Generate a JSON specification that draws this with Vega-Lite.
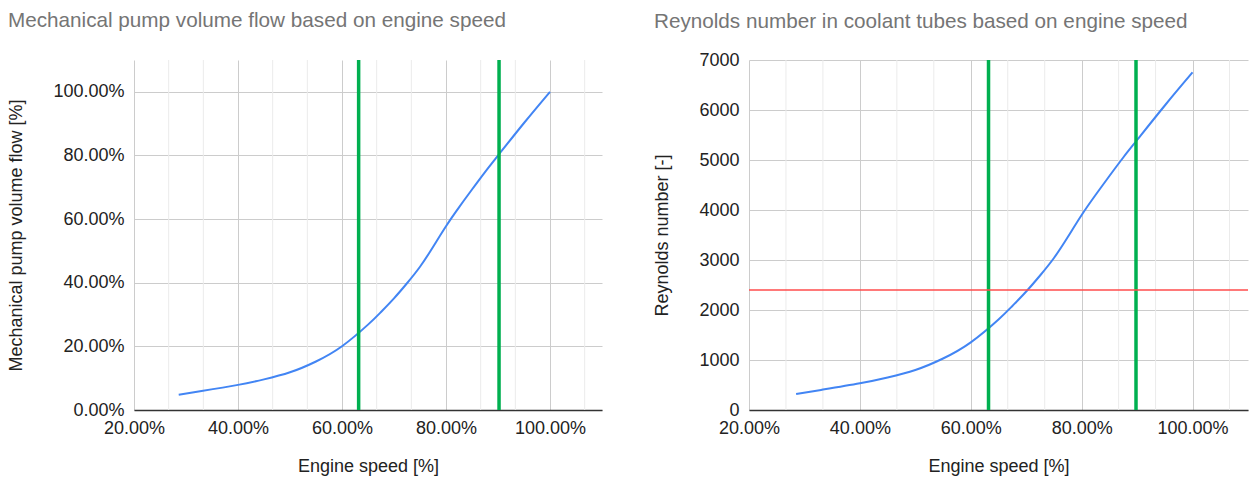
{
  "$schema": "https://vega.github.io/schema/vega-lite/v6.json",
  "padding": {"left": 7, "top": 9, "right": 5, "bottom": 2},
  "config": {
    "font": "Liberation Sans",
    "view": {"stroke": null},
    "title": {"fontSize": 20.7, "fontWeight": "normal", "color": "#757575", "anchor": "start", "frame": "bounds", "font": "Liberation Sans"},
    "axis": {
      "labelFont": "Liberation Sans", "titleFont": "Liberation Sans",
      "labelFontSize": 18, "titleFontSize": 18, "titleFontWeight": "normal",
      "labelColor": "#222222", "titleColor": "#222222",
      "ticks": false, "domain": false, "gridColor": "#cccccc", "gridWidth": 1,
      "labelFlush": false, "labelOverlap": false
    },
    "concat": {"spacing": 51}
  },
  "datasets": {
    "flow": [
      {"speed": 0.286, "flow": 0.048},
      {"speed": 0.33, "flow": 0.0595},
      {"speed": 0.40, "flow": 0.079},
      {"speed": 0.45, "flow": 0.0963},
      {"speed": 0.50, "flow": 0.1185},
      {"speed": 0.55, "flow": 0.1525},
      {"speed": 0.60, "flow": 0.2004},
      {"speed": 0.65, "flow": 0.2683},
      {"speed": 0.675, "flow": 0.3081},
      {"speed": 0.70, "flow": 0.3510},
      {"speed": 0.725, "flow": 0.3984},
      {"speed": 0.75, "flow": 0.4502},
      {"speed": 0.775, "flow": 0.5124},
      {"speed": 0.80, "flow": 0.5776},
      {"speed": 0.825, "flow": 0.6369},
      {"speed": 0.85, "flow": 0.6931},
      {"speed": 0.875, "flow": 0.7479},
      {"speed": 0.90, "flow": 0.7998},
      {"speed": 0.95, "flow": 0.9020},
      {"speed": 1.00, "flow": 1.000}
    ],
    "re": [
      {"speed": 0.285, "re": 320},
      {"speed": 0.33, "re": 402},
      {"speed": 0.40, "re": 533},
      {"speed": 0.45, "re": 650},
      {"speed": 0.50, "re": 800},
      {"speed": 0.55, "re": 1030},
      {"speed": 0.60, "re": 1353},
      {"speed": 0.65, "re": 1810},
      {"speed": 0.675, "re": 2080},
      {"speed": 0.70, "re": 2370},
      {"speed": 0.725, "re": 2690},
      {"speed": 0.75, "re": 3040},
      {"speed": 0.775, "re": 3460},
      {"speed": 0.80, "re": 3900},
      {"speed": 0.825, "re": 4300},
      {"speed": 0.85, "re": 4680},
      {"speed": 0.875, "re": 5050},
      {"speed": 0.90, "re": 5400},
      {"speed": 0.95, "re": 6090},
      {"speed": 1.00, "re": 6752}
    ],
    "minor": [
      {"speed": 0.2666667}, {"speed": 0.3333333}, {"speed": 0.4666667}, {"speed": 0.5333333},
      {"speed": 0.6666667}, {"speed": 0.7333333}, {"speed": 0.8666667}, {"speed": 0.9333333},
      {"speed": 1.0666667}
    ],
    "green": [{"speed": 0.632}, {"speed": 0.902}],
    "green2": [{"speed": 0.632}, {"speed": 0.898}],
    "red": [{"re": 2400}]
  },
  "hconcat": [
    {
      "title": {"text": "Mechanical pump volume flow based on engine speed", "offset": 27},
      "width": 468,
      "height": 350,
      "layer": [
        {
          "data": {"name": "minor"},
          "mark": {"type": "rule", "color": "#ebebeb", "strokeWidth": 1},
          "encoding": {"x": {"field": "speed", "type": "quantitative"}}
        },
        {
          "data": {"name": "flow"},
          "mark": {"type": "line", "color": "#4285f4", "strokeWidth": 2, "interpolate": "natural"},
          "encoding": {
            "x": {
              "field": "speed", "type": "quantitative", "title": "Engine speed [%]",
              "scale": {"domain": [0.2, 1.1], "nice": false, "zero": false},
              "axis": {
                "format": ".2%",
                "values": [0.2, 0.4, 0.6, 0.8, 1.0],
                "labelOverlap": false,
                "domain": true, "domainColor": "#333333", "domainWidth": 1.5,
                "labelPadding": 9, "titlePadding": 20
              }
            },
            "y": {
              "field": "flow", "type": "quantitative", "title": "Mechanical pump volume flow [%]",
              "scale": {"domain": [0, 1.1], "nice": false},
              "axis": {"format": ".2%", "values": [0, 0.2, 0.4, 0.6, 0.8, 1.0], "labelPadding": 10, "titlePadding": 27}
            }
          }
        },
        {
          "data": {"name": "green"},
          "mark": {"type": "rule", "color": "#00b050", "strokeWidth": 3.5},
          "encoding": {"x": {"field": "speed", "type": "quantitative"}}
        }
      ]
    },
    {
      "title": {"text": "Reynolds number in coolant tubes based on engine speed", "offset": 18},
      "width": 499,
      "height": 350,
      "layer": [
        {
          "data": {"name": "minor"},
          "mark": {"type": "rule", "color": "#ebebeb", "strokeWidth": 1},
          "encoding": {"x": {"field": "speed", "type": "quantitative"}}
        },
        {
          "data": {"name": "re"},
          "mark": {"type": "line", "color": "#4285f4", "strokeWidth": 2, "interpolate": "natural"},
          "encoding": {
            "x": {
              "field": "speed", "type": "quantitative", "title": "Engine speed [%]",
              "scale": {"domain": [0.2, 1.1], "nice": false, "zero": false},
              "axis": {
                "format": ".2%",
                "values": [0.2, 0.4, 0.6, 0.8, 1.0],
                "labelOverlap": false,
                "domain": true, "domainColor": "#333333", "domainWidth": 1.5,
                "labelPadding": 9, "titlePadding": 20
              }
            },
            "y": {
              "field": "re", "type": "quantitative", "title": "Reynolds number [-]",
              "scale": {"domain": [0, 7000], "nice": false},
              "axis": {"format": "d", "values": [0, 1000, 2000, 3000, 4000, 5000, 6000, 7000], "labelPadding": 10, "titlePadding": 27}
            }
          }
        },
        {
          "data": {"name": "green2"},
          "mark": {"type": "rule", "color": "#00b050", "strokeWidth": 3.5},
          "encoding": {"x": {"field": "speed", "type": "quantitative"}}
        },
        {
          "data": {"name": "red"},
          "mark": {"type": "rule", "color": "#ff4d4d", "strokeWidth": 1.5},
          "encoding": {"y": {"field": "re", "type": "quantitative"}}
        }
      ]
    }
  ]
}
